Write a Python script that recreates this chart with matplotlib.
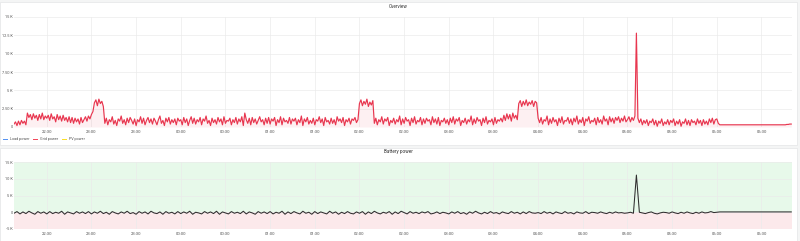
import numpy as np
import pandas as pd
import matplotlib
matplotlib.use("Agg")
import matplotlib.pyplot as plt
import matplotlib.dates as mdates
from matplotlib.patches import Rectangle

plt.rcParams['font.family'] = ['Roboto', 'DejaVu Sans']

# grid power, W, one value per minute (block per hour)
grid_22 = [400, 700, 200, 800, 300, 900, 500, 800, 300,
           1900, 1300, 1700, 1000, 1800, 1200, 1600, 900, 1700, 1100, 1900, 1000, 1500, 1200,
           1600, 900, 1800, 1100, 1400, 700, 1700, 1000, 1500, 800, 1600, 900, 1300, 700, 1400,
           600, 1300, 500, 1200, 700, 1100, 400, 1300, 600, 1000, 1400, 800, 1500, 1100]
grid_23 = [1700, 2100, 3300, 3700, 2900, 3800, 3200, 3500, 2800,
           500, 1200, 300, 1000, 700, 1400, 400, 900, 200, 1100,
           800, 1500, 500, 1000, 300, 1200, 600, 1300, 900, 400,
           1100, 200, 1000, 700, 1400, 500, 1200, 300, 900, 1300,
           600, 1100, 400, 1200, 800, 300, 1000, 1500, 500, 900,
           200, 1200, 700, 1300, 400, 1000, 600, 1100, 300, 1200, 800]
grid_00 = [1000, 300, 1300, 600, 1100, 200, 900, 1400, 500, 1200,
           400, 1000, 700, 1300, 300, 1100, 800, 1500, 500, 900,
           200, 1200, 600, 1000, 400, 1300, 700, 1100, 300, 1400,
           500, 900, 800, 1200, 300, 1000, 600, 1300, 400, 1100,
           700, 1400, 200, 1900, 1000, 500, 1200, 300, 1300, 600,
           1100, 400, 900, 1400, 700, 1000, 300, 1200, 500, 1300]
grid_01 = [400, 1100, 800, 1300, 200, 1000, 600, 1400, 300, 1200,
           700, 900, 500, 1300, 400, 1100, 800, 1200, 300, 1000,
           600, 1500, 200, 1100, 700, 1300, 400, 900, 500, 1200,
           300, 1000, 800, 1400, 600, 1100, 200, 1300, 700, 900,
           400, 1200, 500, 1000, 300, 1400, 800, 1100, 600, 1300,
           200, 1000, 700, 1200, 400, 1100, 900, 1300, 600, 1000]
grid_02 = [3200, 3700, 2900, 3500, 3100, 3800, 2800, 3400, 3000, 3600,
           500, 1200, 300, 1000, 700, 1400, 400, 1100, 800, 1300,
           200, 900, 600, 1200, 400, 1000, 700, 1500, 300, 1100,
           500, 1300, 800, 1000, 200, 1200, 600, 1400, 400, 900,
           700, 1300, 300, 1100, 500, 1200, 800, 1000, 300, 1400,
           600, 1100, 400, 1300, 200, 900, 700, 1200, 500, 1000]
grid_03 = [300, 1200, 600, 1400, 400, 1100, 800, 1300, 200, 900,
           600, 1200, 400, 1000, 700, 1500, 300, 1100, 500, 1300,
           800, 1000, 200, 1200, 600, 1400, 400, 900, 700, 1100,
           300, 1300, 500, 1000, 800,
           1200, 700, 1600, 900, 1800, 1100, 1700, 800, 1900, 1200, 1600, 1000,
           3200, 3600, 2800, 3500, 3000, 3700, 2900, 3400, 3100, 3600, 2800, 3500, 3300]
grid_04 = [1200,
           600, 1300, 400, 1000, 800, 1500, 300, 1100, 500, 1300,
           700, 1000, 200, 1200, 600, 1400, 400, 900, 800, 1300,
           500, 1100, 300, 1200, 700, 1500, 400, 1000, 600, 1300,
           200, 1100, 800, 1400, 500, 900, 700, 1200, 300, 1300,
           600, 1000, 400, 1500, 800, 1100, 300, 1400, 700, 1200,
           500, 1300, 900, 1400, 600, 1200, 800, 1500, 700]
grid_05 = [1000, 1400, 700, 1300, 900, 1500, 12800,
           1200, 600, 1100, 300, 900, 500, 1000, 200, 800, 600,
           1100, 300, 900, 100, 800, 500, 1100, 200, 700, 400,
           1000, 300, 900, 600, 1100, 200, 800, 400, 1000, 100,
           700, 500, 1100, 300, 900, 200, 1000, 600, 800, 300,
           1100, 500, 900, 200, 1000, 400, 800, 300, 1100, 600,
           1200, 400, 1000]
grid_06 = [1100, 500,
           300, 300, 300, 300, 300, 300, 300, 300, 300, 300,
           300, 300, 300, 300, 300, 300, 300, 300, 300, 300,
           300, 300, 300, 300, 300, 300, 300, 300, 300, 300,
           300, 300, 300, 300, 300, 300, 300, 300, 300, 300,
           300, 300, 300, 300, 300, 350, 350, 400, 400]

# battery power, W, one value every 2 minutes
bat_22 = [-300, 200, -500, 100, -400, 300, -200, -600, 200, -300, 100, -500, 200,
          -400, 0, -300, 300, -600, 100, -200, -500, 200, -300, 100, -400, 200]
bat_23 = [-500, 100, -300, 300, -400, 0, -600, 200, -200, -500, 100, -300, 300, -400, -100,
          -600, 200, -300, 100, -500, 300, -200, -400, 100, -600, 200, -300, 0, -500, 200]
bat_00 = [-400, 100, -300, 300, -600, 0, -200, -500, 200, -300, 100, -400, 300, -600, 100,
          -200, -500, 200, -300, 0, -400, 300, -500, 100, -200, -600, 200, -300, 100, -400]
bat_01 = [200, -500, 0, -300, 300, -600, 100, -400, 200, -200, -500, 300, -300, 0, -600,
          200, -400, 100, -200, -500, 300, -300, 100, -600, 0, -400, 200, -300, -500, 100]
bat_02 = [-300, 200, -600, 100, -400, 300, -200, -500, 0, -300, 200, -600, 100, -400, 300,
          -100, -500, 200, -300, 0, -400, 100, -200, 200, -500, -300, 100, -400, 0, -200]
bat_03 = [-500, 100, -300, 200, -400, -100, -600, 100, -300, 300, -200, -500, 0, -400, 200,
          -300, -100, -500, 100, -200, -400, 200, -300, 0, -500, 100, -400, 200, -200, -300]
bat_04 = [-100, -400, 200, -300, 0, -500, 100, -200, -400, 200, -300, -100, -500, 100, -200,
          -300, 200, -400, 0, -100, -300, 100, -200, -400, 0, -300, 100, -200, -100, -300]
bat_05 = [-200, 0, -300, 11100, 0, -200, -400, -100, 100, -300, -500, -200, 0, -100,
          -300, 100, -200, -400, 0, -300, 100, -200, -400, 0, -300, 100, -200, -100, 200, -100]
bat_06 = [0, 100,
          100, 100, 100, 100, 100, 100, 100, 100, 100, 100, 100, 100,
          100, 100, 100, 100, 100, 100, 100, 100, 100, 100, 100, 100]

grid = grid_22 + grid_23 + grid_00 + grid_01 + grid_02 + grid_03 + grid_04 + grid_05 + grid_06
battery = bat_22 + bat_23 + bat_00 + bat_01 + bat_02 + bat_03 + bat_04 + bat_05 + bat_06

t_grid = pd.date_range("2023-01-01 22:08", periods=len(grid), freq="1min")
t_bat = pd.date_range("2023-01-01 22:08", periods=len(battery), freq="2min")

W, H = 800, 241
fig = plt.figure(figsize=(W / 100, H / 100), dpi=100, facecolor="#f4f5f5")

# panel backgrounds
for y0, y1 in [(2, 145), (148, 241)]:
    fig.patches.append(Rectangle((0, 1 - y1 / H), 797 / W, (y1 - y0) / H,
                                 transform=fig.transFigure, facecolor="white",
                                 edgecolor="#e4e5e6", linewidth=0.5, zorder=-10))

xmin = pd.Timestamp("2023-01-01 22:08")
xmax = pd.Timestamp("2023-01-02 06:50:30")

ax1 = fig.add_axes([14 / W, 1 - 127 / H, 778 / W, 110 / H])
ax2 = fig.add_axes([14 / W, 1 - 229 / H, 778 / W, 67 / H])

red = "#e8364f"
ax1.plot(t_grid, grid, color=red, lw=0.85)
ax1.fill_between(t_grid, grid, 0, color=red, alpha=0.07, lw=0)
ax1.set_ylim(0, 15000)
ax1.set_yticks([0, 2500, 5000, 7500, 10000, 12500, 15000])
ax1.set_yticklabels(["0", "2.50 K", "5 K", "7.50 K", "10 K", "12.5 K", "15 K"])

ax2.axhspan(0, 15000, color="#e7f9ea", lw=0, zorder=0)
ax2.axhspan(-5000, 0, color="#fce9eb", lw=0, zorder=0)
ax2.plot(t_bat, battery, color="#2e2e2e", lw=0.75)
ax2.set_ylim(-5000, 15000)
ax2.set_yticks([-5000, 0, 5000, 10000, 15000])
ax2.set_yticklabels(["-5 K", "0", "5 K", "10 K", "15 K"])

for ax in (ax1, ax2):
    ax.set_facecolor("none")
    ax.set_xlim(xmin, xmax)
    ax.xaxis.set_major_locator(mdates.MinuteLocator(byminute=[0, 30]))
    ax.xaxis.set_major_formatter(mdates.DateFormatter("%H:%M"))
    ax.tick_params(axis="x", length=0, labelsize=3.0, labelcolor="#555555", pad=2)
    ax.tick_params(axis="y", length=0, labelsize=2.8, labelcolor="#555555", pad=1)
    ax.grid(color="#ebebeb", lw=0.5)
    ax.set_axisbelow(True)
    for s in ax.spines.values():
        s.set_visible(False)

fig.text(398 / W, 1 - 7 / H, "Overview", ha="center", va="center", fontsize=3.3, color="#333333")
fig.text(398 / W, 1 - 152 / H, "Battery power", ha="center", va="center", fontsize=3.3, color="#333333")

# legend
legend = [("Load power", "#5794f2", 3), ("Grid power", "#f2495c", 33), ("PV power", "#fade2a", 62)]
for label, c, x in legend:
    fig.patches.append(Rectangle((x / W, 1 - 140 / H), 4.5 / W, 1.5 / H,
                                 transform=fig.transFigure, facecolor=c, lw=0))
    fig.text((x + 7) / W, 1 - 139.3 / H, label, ha="left", va="center", fontsize=2.7, color="#555555")

fig.savefig("out.png", dpi=100, facecolor=fig.get_facecolor())
